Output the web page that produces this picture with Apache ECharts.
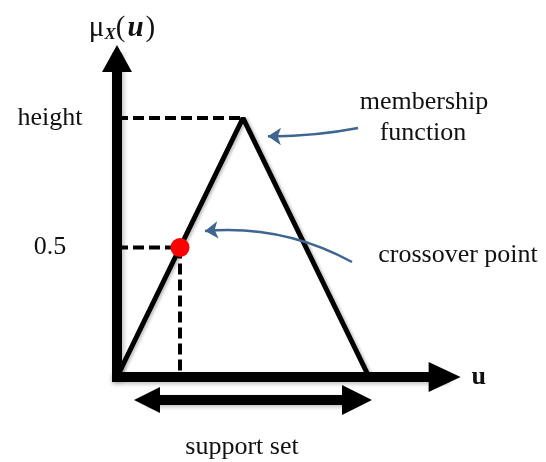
<!DOCTYPE html>
<html>
<head>
<meta charset="utf-8">
<script src="https://cdn.jsdelivr.net/npm/echarts@6/dist/echarts.min.js"></script>
<style>
  html, body { margin: 0; padding: 0; background: #fff; }
  #graph1 { width: 546px; height: 462px; }
</style>
</head>
<body>
<div id="graph1"></div>
<script>
/* 隶属函数 (三角形) */
var memberU = [0, 1, 2];        // u
var memberMu = [0, 1, 0];       // mu_X(u)
/* crossover point */
var crossU = [0.5];
var crossMu = [0.5];
/* y 轴刻度 */
var yTickValues = [0.5, 1];
var yTickLabels = ['0.5', 'height'];
/* support set */
var supportSet = [0, 2];

var SERIF = '"Liberation Serif", "Times New Roman", serif';

function membershipChart(obj) {
  var myChart = echarts.init(document.getElementById(obj));

  var triangle = [];
  for (var i in memberU) {
    triangle[i] = [memberU[i], memberMu[i]];
  }
  var peakU = memberU[1];
  var peakMu = memberMu[1];
  var cu = crossU[0];
  var cm = crossMu[0];

  var dashStyle = {
    color: '#000',
    width: 4,
    type: [11, 5]
  };

  var option = {
    animation: false,
    grid: {
      left: 117,
      right: 101.4,
      top: 58.4,
      bottom: 85,
      containLabel: false,
      outerBoundsMode: 'none'
    },
    xAxis: {
      type: 'value',
      min: 0,
      max: 2.6,
      name: 'u',
      nameLocation: 'end',
      nameGap: 27,
      nameTextStyle: {
        fontFamily: SERIF,
        fontSize: 26,
        fontWeight: 'bold',
        color: '#111',
        align: 'left',
        verticalAlign: 'middle',
        padding: [14, 0, 0, 0]
      },
      axisLine: {
        show: true,
        symbol: ['none', 'triangle'],
        symbolSize: [30, 32],
        lineStyle: {
          color: '#000',
          width: 10,
          cap: 'square',
          shadowColor: 'rgba(0,0,0,0.25)',
          shadowBlur: 4,
          shadowOffsetY: 2
        }
      },
      axisTick: { show: false },
      axisLabel: { show: false },
      splitLine: { show: false }
    },
    yAxis: {
      type: 'value',
      min: 0,
      max: 1.23,
      name: '{m|μ}{s|X}{p|(}{u|u}{p|)}',
      nameLocation: 'end',
      nameGap: 15,
      nameTextStyle: {
        padding: [0, 0, 0, 10],
        rich: {
          m: { fontFamily: SERIF, fontSize: 29, color: '#111', lineHeight: 30, verticalAlign: 'middle' },
          s: { fontFamily: SERIF, fontSize: 17, fontWeight: 'bold', fontStyle: 'italic', color: '#111', lineHeight: 17, verticalAlign: 'bottom' },
          p: { fontFamily: SERIF, fontSize: 29, color: '#111', lineHeight: 30, verticalAlign: 'middle' },
          u: { fontFamily: SERIF, fontSize: 29, fontWeight: 'bold', fontStyle: 'italic', color: '#111', lineHeight: 30, verticalAlign: 'middle', padding: [0, 2, 0, 2] }
        }
      },
      axisLine: {
        show: true,
        symbol: ['none', 'triangle'],
        symbolSize: [30, 27],
        lineStyle: {
          color: '#000',
          width: 10,
          cap: 'square',
          shadowColor: 'rgba(0,0,0,0.25)',
          shadowBlur: 4,
          shadowOffsetX: 2
        }
      },
      axisTick: { show: false },
      axisLabel: {
        show: true,
        customValues: yTickValues,
        formatter: function (v) {
          for (var i in yTickValues) {
            if (Math.abs(yTickValues[i] - v) < 1e-6) return yTickLabels[i];
          }
          return '';
        },
        margin: 67,
        align: 'center',
        fontFamily: SERIF,
        fontSize: 26,
        color: '#111'
      },
      splitLine: { show: false }
    },
    graphic: [
      { type: 'text', x: 424, y: 102, style: { text: 'membership', font: '26px ' + SERIF, fill: '#111', align: 'center', verticalAlign: 'middle' } },
      { type: 'text', x: 423, y: 133, style: { text: 'function', font: '26px ' + SERIF, fill: '#111', align: 'center', verticalAlign: 'middle' } },
      { type: 'text', x: 458, y: 255, style: { text: 'crossover point', font: '26px ' + SERIF, fill: '#111', align: 'center', verticalAlign: 'middle' } },
      { type: 'text', x: 242, y: 447, style: { text: 'support set', font: '26px ' + SERIF, fill: '#111', align: 'center', verticalAlign: 'middle' } }
    ],
    series: [
      {
        // height 虚线
        type: 'line',
        data: [[0, peakMu], [peakU, peakMu]],
        symbol: 'none',
        lineStyle: dashStyle,
        z: 3
      },
      {
        // 0.5 虚线
        type: 'line',
        data: [[0, cm], [cu, cm]],
        symbol: 'none',
        lineStyle: dashStyle,
        z: 3
      },
      {
        // 竖虚线
        type: 'line',
        data: [[cu, cm], [cu, 0]],
        symbol: 'none',
        lineStyle: dashStyle,
        z: 3
      },
      {
        // 三角形
        type: 'line',
        data: triangle,
        symbol: 'none',
        lineStyle: {
          color: '#000',
          width: 5,
          shadowColor: 'rgba(0,0,0,0.25)',
          shadowBlur: 3,
          shadowOffsetX: 2,
          shadowOffsetY: 1
        },
        z: 4
      },
      {
        // crossover point
        type: 'scatter',
        data: [[cu, cm]],
        symbolSize: 19,
        itemStyle: { color: '#ff0000', opacity: 1 },
        z: 10
      },
      {
        // support set 双箭头
        type: 'lines',
        coordinateSystem: 'cartesian2d',
        clip: false,
        symbol: ['triangle', 'triangle'],
        symbolSize: [26, 30],
        lineStyle: {
          color: '#000',
          width: 10,
          opacity: 1,
          shadowColor: 'rgba(0,0,0,0.25)',
          shadowBlur: 4,
          shadowOffsetY: 2
        },
        data: [{ coords: [[supportSet[0] + 0.238, -0.089], [supportSet[1] - 0.095, -0.089]] }],
        z: 4
      },
      {
        // 蓝色指示箭头
        type: 'lines',
        coordinateSystem: 'cartesian2d',
        clip: false,
        symbol: ['none', 'arrow'],
        symbolSize: 13,
        lineStyle: {
          color: '#3f6591',
          width: 2.5,
          opacity: 1
        },
        data: [
          { coords: [[1.913, 0.961], [1.198, 0.929]], lineStyle: { curveness: 0.05 } },
          { coords: [[1.865, 0.444], [0.698, 0.564]], lineStyle: { curveness: -0.15 } }
        ],
        z: 5
      }
    ]
  };

  myChart.setOption(option);
}

membershipChart('graph1');
</script>
</body>
</html>
